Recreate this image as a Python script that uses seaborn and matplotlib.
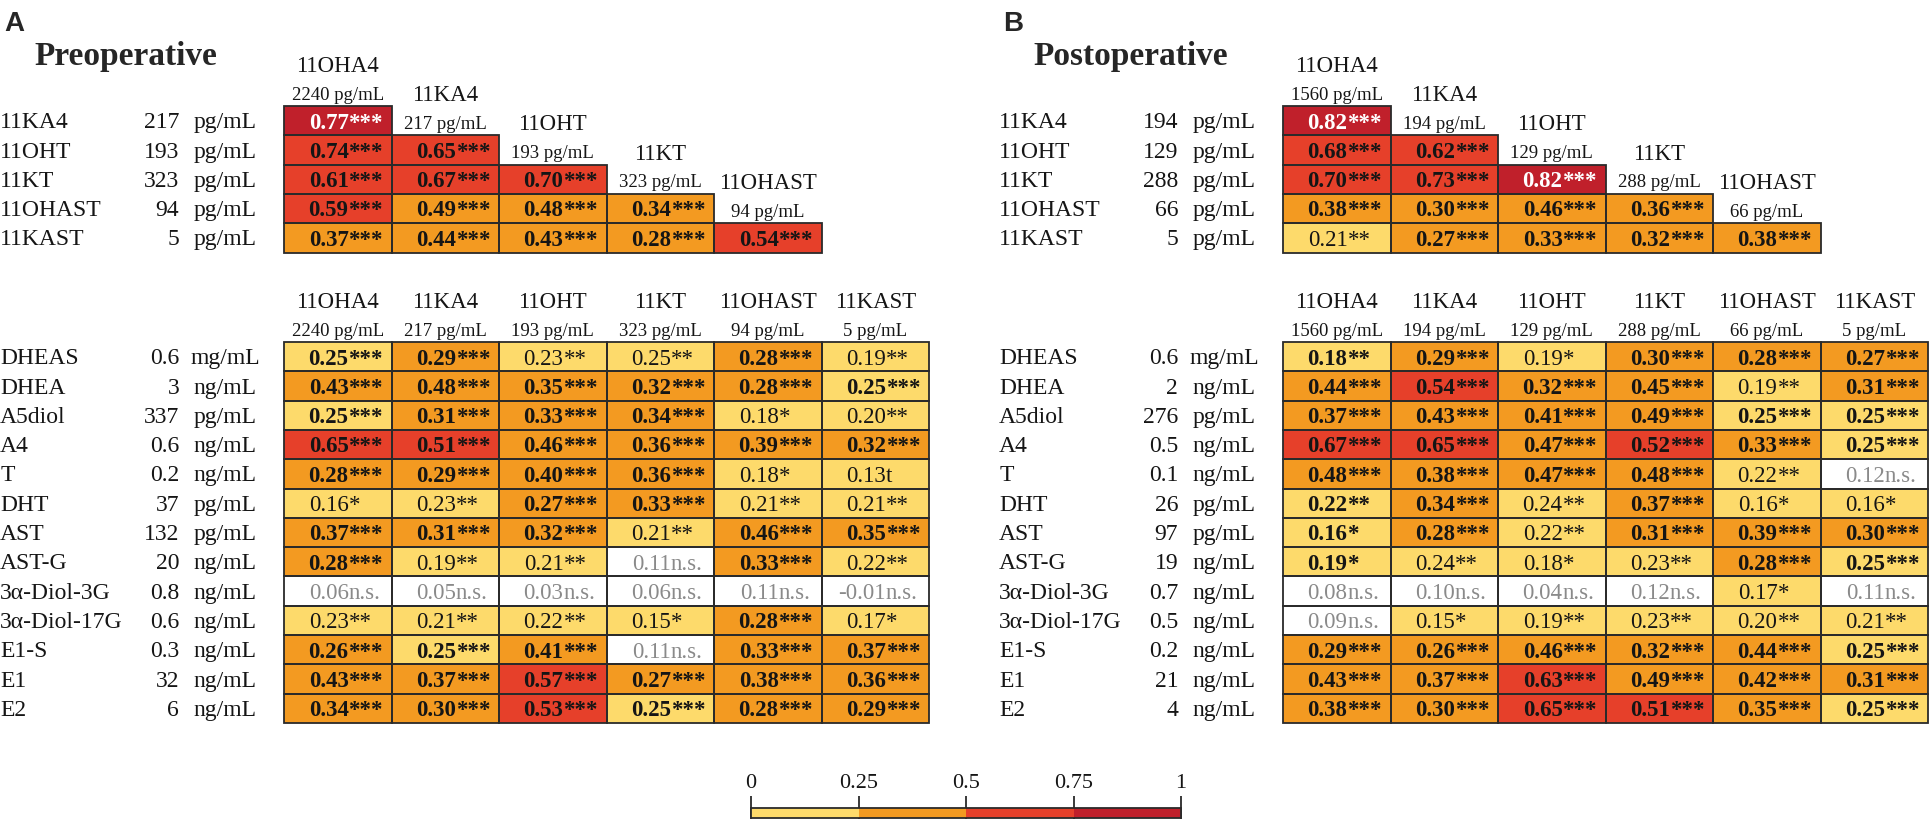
import re
import numpy as np
import matplotlib
matplotlib.use("Agg")
import matplotlib.pyplot as plt
from matplotlib.colors import ListedColormap
from matplotlib.patches import Rectangle
import seaborn as sns

# 11-oxygenated steroids (columns of both tables) and their medians
pre_11oxy = ["11OHA4", "11KA4", "11OHT", "11KT", "11OHAST", "11KAST"]
pre_11oxy_conc = [2240, 217, 193, 323, 94, 5]
post_11oxy = ["11OHA4", "11KA4", "11OHT", "11KT", "11OHAST", "11KAST"]
post_11oxy_conc = [1560, 194, 129, 288, 66, 5]

# other steroids (rows of the lower tables)
other_steroids = ["DHEAS", "DHEA", "A5diol", "A4", "T", "DHT", "AST", "AST-G",
                  "3\u03b1-Diol-3G", "3\u03b1-Diol-17G", "E1-S", "E1", "E2"]
pre_other_conc = ["0.6", "3", "337", "0.6", "0.2", "37", "132", "20", "0.8", "0.6", "0.3", "32", "6"]
post_other_conc = ["0.6", "2", "276", "0.5", "0.1", "26", "97", "19", "0.7", "0.5", "0.2", "21", "4"]
other_units = ["mg/mL", "ng/mL", "pg/mL", "ng/mL", "ng/mL", "pg/mL", "pg/mL", "ng/mL",
               "ng/mL", "ng/mL", "ng/mL", "ng/mL", "ng/mL"]

pre_tri = [
    ["0.77***"],
    ["0.74***", "0.65***"],
    ["0.61***", "0.67***", "0.70***"],
    ["0.59***", "0.49***", "0.48***", "0.34***"],
    ["0.37***", "0.44***", "0.43***", "0.28***", "0.54***"],
]
post_tri = [
    ["0.82***"],
    ["0.68***", "0.62***"],
    ["0.70***", "0.73***", "0.82***"],
    ["0.38***", "0.30***", "0.46***", "0.36***"],
    ["0.21**", "0.27***", "0.33***", "0.32***", "0.38***"],
]
pre_other = [
    ["0.25***", "0.29***", "0.23**", "0.25**", "0.28***", "0.19**"],
    ["0.43***", "0.48***", "0.35***", "0.32***", "0.28***", "0.25***"],
    ["0.25***", "0.31***", "0.33***", "0.34***", "0.18*", "0.20**"],
    ["0.65***", "0.51***", "0.46***", "0.36***", "0.39***", "0.32***"],
    ["0.28***", "0.29***", "0.40***", "0.36***", "0.18*", "0.13t"],
    ["0.16*", "0.23**", "0.27***", "0.33***", "0.21**", "0.21**"],
    ["0.37***", "0.31***", "0.32***", "0.21**", "0.46***", "0.35***"],
    ["0.28***", "0.19**", "0.21**", "0.11n.s.", "0.33***", "0.22**"],
    ["0.06n.s.", "0.05n.s.", "0.03n.s.", "0.06n.s.", "0.11n.s.", "-0.01n.s."],
    ["0.23**", "0.21**", "0.22**", "0.15*", "0.28***", "0.17*"],
    ["0.26***", "0.25***", "0.41***", "0.11n.s.", "0.33***", "0.37***"],
    ["0.43***", "0.37***", "0.57***", "0.27***", "0.38***", "0.36***"],
    ["0.34***", "0.30***", "0.53***", "0.25***", "0.28***", "0.29***"],
]
post_other = [
    ["0.18**", "0.29***", "0.19*", "0.30***", "0.28***", "0.27***"],
    ["0.44***", "0.54***", "0.32***", "0.45***", "0.19**", "0.31***"],
    ["0.37***", "0.43***", "0.41***", "0.49***", "0.25***", "0.25***"],
    ["0.67***", "0.65***", "0.47***", "0.52***", "0.33***", "0.25***"],
    ["0.48***", "0.38***", "0.47***", "0.48***", "0.22**", "0.12n.s."],
    ["0.22**", "0.34***", "0.24**", "0.37***", "0.16*", "0.16*"],
    ["0.16*", "0.28***", "0.22**", "0.31***", "0.39***", "0.30***"],
    ["0.19*", "0.24**", "0.18*", "0.23**", "0.28***", "0.25***"],
    ["0.08n.s.", "0.10n.s.", "0.04n.s.", "0.12n.s.", "0.17*", "0.11n.s."],
    ["0.09n.s.", "0.15*", "0.19**", "0.23**", "0.20**", "0.21**"],
    ["0.29***", "0.26***", "0.46***", "0.32***", "0.44***", "0.25***"],
    ["0.43***", "0.37***", "0.63***", "0.49***", "0.42***", "0.31***"],
    ["0.38***", "0.30***", "0.65***", "0.51***", "0.35***", "0.25***"],
]

scale_ticks = [0, 0.25, 0.5, 0.75, 1]
colors = ["#ffffff", "#fdda6b", "#f39a21", "#e6402a", "#c0202b"]

sns.set_theme(style="white")
plt.rcParams["font.family"] = ["Liberation Serif", "DejaVu Serif"]

W, H = 1930, 819
CW, RH = 107.5, 29.3
EDGE = "#2a2a2a"
cmap = ListedColormap(colors)

fig = plt.figure(figsize=(W / 100, H / 100), dpi=100)


def px_axes(left, top, width, height):
    return fig.add_axes([left / W, 1 - (top + height) / H, width / W, height / H])


def draw_table(x0, top, cells, rows, row_conc, row_units, cols, col_conc,
               staircase=False, bold_cols=()):
    n, m = len(rows), len(cols)
    r = np.full((n, m), np.nan)
    ns = np.zeros((n, m), dtype=bool)
    parts = {}
    for i, row in enumerate(cells):
        for j, c in enumerate(row):
            num, suf = re.match(r"(-?\d+\.\d+)(.*)", c).groups()
            r[i, j] = float(num)
            ns[i, j] = suf == "n.s."
            parts[i, j] = (num, suf)
    codes = np.digitize(np.nan_to_num(r), scale_ticks[1:-1], right=True) + 1.0
    codes[ns] = 0
    codes[np.isnan(r)] = np.nan

    ax = px_axes(x0, top, m * CW, n * RH)
    sns.heatmap(codes, mask=np.isnan(r), cmap=cmap, vmin=-0.5, vmax=len(colors) - 0.5,
                cbar=False, xticklabels=False, yticklabels=False, ax=ax)

    for (i, j), (num, suf) in parts.items():
        ax.add_patch(Rectangle((j, i), 1, 1, fill=False, ec=EDGE, lw=1.3, clip_on=False))
        code = int(codes[i, j])
        color = "#8a8a8a" if code == 0 else ("white" if code == 4 else "#151515")
        bold = "***" in suf or (j in bold_cols and code != 0)
        w = "bold" if bold else "normal"
        ax.text(j + 0.6, i + 0.77, num, ha="right", va="baseline", fontsize=16.5,
                color=color, weight=w)
        ax.text(j + 0.6, i + 0.77, suf, ha="left", va="baseline", fontsize=16.5,
                color=color, weight=w)

    for i, name in enumerate(rows):
        y = i + 0.76
        ax.text(-2.64, y, name, ha="left", va="baseline", fontsize=17, color="#151515")
        ax.text(-0.975, y, row_conc[i], ha="right", va="baseline", fontsize=17, color="#151515")
        ax.text(-0.55, y, row_units[i], ha="center", va="baseline", fontsize=17, color="#151515")

    for j, name in enumerate(cols):
        base = j if staircase else 0
        ax.text(j + 0.5, base - 1.17, name, ha="center", va="baseline", fontsize=16.5,
                color="#151515")
        ax.text(j + 0.5, base - 0.22, f"{col_conc[j]} pg/mL", ha="center", va="baseline",
                fontsize=13.5, color="#151515")
    return ax


panels = [
    ("A", "Preoperative", 0, pre_11oxy, pre_11oxy_conc, pre_tri, pre_other, pre_other_conc, ()),
    ("B", "Postoperative", 999, post_11oxy, post_11oxy_conc, post_tri, post_other, post_other_conc, (0,)),
]
for letter, title, x_lab, oxy, oxy_conc, tri, other, other_conc, bold_cols in panels:
    x0 = x_lab + 284
    fig.text((x_lab + 4) / W, 1 - 31 / H, letter, family="Liberation Sans", weight="bold",
             fontsize=20, va="baseline")
    fig.text((x_lab + 34) / W, 1 - 65 / H, title, weight="bold", fontsize=24, va="baseline")
    draw_table(x0, 106, tri, oxy[1:], [str(v) for v in oxy_conc[1:]], ["pg/mL"] * 5,
               oxy[:5], oxy_conc[:5], staircase=True)
    draw_table(x0, 342, other, other_steroids, other_conc, other_units, oxy, oxy_conc,
               bold_cols=bold_cols)

# colour key
ticks = np.array(scale_ticks)
mids = (ticks[:-1] + ticks[1:]) / 2
key_codes = (np.digitize(mids, ticks[1:-1], right=True) + 1).reshape(1, -1)
ax_cb = px_axes(751, 808, len(mids) * CW, 10)
sns.heatmap(key_codes, cmap=cmap, vmin=-0.5, vmax=len(colors) - 0.5, cbar=False,
            xticklabels=False, yticklabels=False, ax=ax_cb)
ax_cb.add_patch(Rectangle((0, 0), len(mids), 1, fill=False, ec=EDGE, lw=1.3, clip_on=False))
ax_cb.set_xticks(np.arange(len(ticks)))
ax_cb.set_xticklabels([f"{t:g}" for t in ticks], fontsize=16, color="#151515")
ax_cb.xaxis.tick_top()
ax_cb.tick_params(axis="x", top=True, bottom=False, direction="inout", length=18,
                  width=1.3, color=EDGE, pad=2)

fig.savefig("out.png", dpi=100)
